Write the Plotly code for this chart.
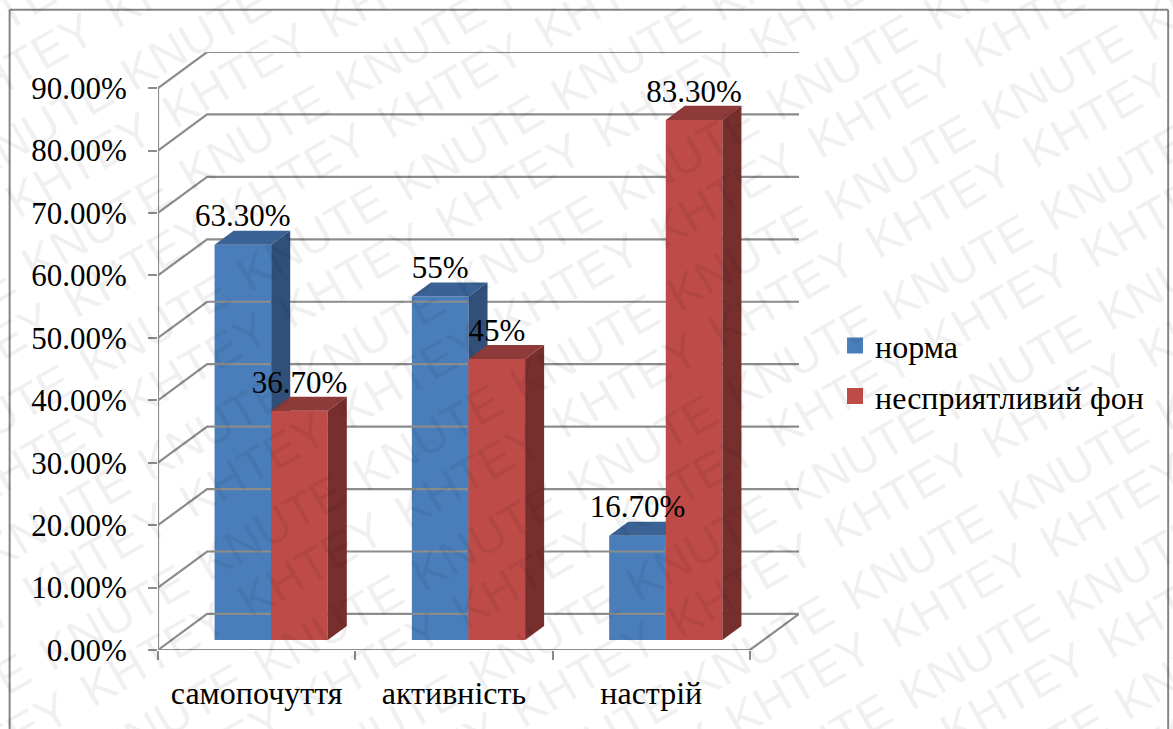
import plotly.graph_objects as go

categories = ["самопочуття", "активність", "настрій"]
norma = [63.3, 55, 16.7]
fon = [36.7, 45, 83.3]
norma_labels = ["63.30%", "55%", "16.70%"]
fon_labels = ["36.70%", "45%", "83.30%"]
series_names = ["норма", "несприятливий фон"]
y_ticks = [0, 10, 20, 30, 40, 50, 60, 70, 80, 90]
y_tick_labels = ["0.00%", "10.00%", "20.00%", "30.00%", "40.00%", "50.00%", "60.00%", "70.00%", "80.00%", "90.00%"]
watermark_words = ["KHTEY", "KNUTE"]

W, H = 1173, 729
PX_L, PX_R, PX_T, PX_B = 158.3, 799.0, 51.7, 650.0
UX = 196.9          # px per category
UY = 6.233          # px per percentage point
DX, DY = 49 / UX, 36 / UY                # wall depth
FX, FY = 14.5 / UX, 10 / UY              # bar front plane
SX, SY = 19 / UX, 14 / UY                # bar depth
BW = 56.5 / UX                           # bar width
GRID = "#8c8c8c"
SERIF = "Liberation Serif"

xr = [-0.5, 2.5 + DX]
yr = [0, 90 + DY]
px = lambda v: (v - PX_L) / (PX_R - PX_L)
py = lambda v: (PX_B - v) / (PX_B - PX_T)

fig = go.Figure()

# wall gridlines and floor
gx, gy = [], []
for t in y_ticks:
    gx += [-0.5, -0.5 + DX, 2.5 + DX, None]
    gy += [t, t + DY, t + DY, None]
gx += [-0.5, 2.5, 2.5 + DX, None, -0.5, -0.5]
gy += [0, 0, DY, None, 0, 90]
fig.add_trace(go.Scatter(x=gx, y=gy, mode="lines", line=dict(color=GRID, width=2.2),
                         showlegend=False, hoverinfo="skip", cliponaxis=False))


def add_series(vals, side, front, top, dark, xa, ya):
    xs = [i + FX + side * BW / 2 for i in range(len(vals))]
    fig.add_trace(go.Bar(x=xs, y=vals, base=FY, width=BW, marker=dict(color=front, line=dict(width=0)),
                         showlegend=False, xaxis=xa, yaxis=ya))
    tx, ty, sx, sy = [], [], [], []
    for c, v in zip(xs, vals):
        l, r, t, b = c - BW / 2, c + BW / 2, v + FY, FY
        tx += [l, r, r + SX, l + SX, l, None]
        ty += [t, t, t + SY, t + SY, t, None]
        sx += [r, r + SX, r + SX, r, r, None]
        sy += [b, b + SY, t + SY, t, b, None]
    fig.add_trace(go.Scatter(x=tx, y=ty, mode="lines", fill="toself", fillcolor=top, line=dict(width=0, color=top),
                             showlegend=False, hoverinfo="skip", xaxis=xa, yaxis=ya))
    fig.add_trace(go.Scatter(x=sx, y=sy, mode="lines", fill="toself", fillcolor=dark, line=dict(width=0, color=dark),
                             showlegend=False, hoverinfo="skip", xaxis=xa, yaxis=ya))
    return xs


xs_n = add_series(norma, -1, "#4a7ebb", "#3a6294", "#30507a", "x", "y")
xs_f = add_series(fon, 1, "#be4b48", "#8e3a38", "#772f2d", "x2", "y2")

# data labels
lab_x = list(xs_n + xs_f)
lab_y = [v + FY + 26 / UY for v in norma + fon]
fig.add_trace(go.Scatter(x=lab_x, y=lab_y, mode="text", text=norma_labels + fon_labels,
                         textposition="middle center", textfont=dict(family=SERIF, size=31, color="black"),
                         showlegend=False, hoverinfo="skip", xaxis="x2", yaxis="y2", cliponaxis=False))

# legend keys
for name, col in zip(series_names, ["#4a7ebb", "#be4b48"]):
    fig.add_trace(go.Scatter(x=[None], y=[None], mode="markers", name=name, legendgroup=name,
                             marker=dict(symbol="square", size=16, color=col)))

# watermark lattice
annots = []
a = (157, -90)
b = (58, 100)
anchors = {"KHTEY": (898, 495), "KNUTE": (916, 557)}
for w in watermark_words:
    ax, ay = anchors[w]
    for i in range(-10, 11):
        for j in range(-10, 11):
            cx = ax + i * a[0] + j * b[0]
            cy = ay + i * a[1] + j * b[1]
            if -120 < cx < W + 120 and -120 < cy < H + 120:
                annots.append(dict(text=w, x=px(cx), y=py(cy), xref="paper", yref="paper",
                                   xanchor="center", yanchor="middle", showarrow=False, textangle=-30,
                                   font=dict(family="Liberation Sans", size=48, color="rgba(0,0,0,0.06)")))

frame = dict(type="line", xref="paper", yref="paper", line=dict(color="#858585", width=2), layer="below")
shapes = [
    dict(frame, x0=px(10), x1=px(10), y0=py(9.5), y1=py(H + 5)),
    dict(frame, x0=px(10), x1=px(1168), y0=py(9.5), y1=py(9.5)),
    dict(frame, x0=px(1168), x1=px(1168), y0=py(9.5), y1=py(H + 5)),
]

axis_font = dict(family=SERIF, size=31, color="black")
fig.update_layout(
    width=W, height=H, margin=dict(l=PX_L, r=W - PX_R, t=PX_T, b=H - PX_B, autoexpand=False),
    paper_bgcolor="white", plot_bgcolor="rgba(0,0,0,0)", barmode="overlay",
    xaxis=dict(range=xr, tickmode="array", tickvals=[-0.5, 0.5, 1.5, 2.5], ticktext=["", "", "", ""],
               ticks="outside", ticklen=9, tickwidth=2, tickcolor=GRID, showgrid=False, zeroline=False, showline=False),
    yaxis=dict(range=yr, tickmode="array", tickvals=y_ticks, ticktext=y_tick_labels, tickfont=axis_font,
               ticks="outside", ticklen=9, tickwidth=2, tickcolor=GRID, ticklabelstandoff=15,
               showgrid=False, zeroline=False, showline=False),
    xaxis2=dict(range=xr, overlaying="x", anchor="y2", tickmode="array", tickvals=[0, 1, 2], ticktext=categories,
                tickfont=dict(family=SERIF, size=32, color="black"), ticks="", ticklabelstandoff=21,
                showgrid=False, zeroline=False, showline=False),
    yaxis2=dict(range=yr, overlaying="y", anchor="x2", showticklabels=False, ticks="", showgrid=False,
                zeroline=False, showline=False),
    legend=dict(x=px(835), y=py(318), xanchor="left", yanchor="top", bgcolor="rgba(0,0,0,0)",
                font=dict(family=SERIF, size=32, color="black"), tracegroupgap=6, itemsizing="trace", itemclick=False),
    annotations=annots, shapes=shapes, showlegend=True,
)

fig.write_html("out.html", config={"displayModeBar": False},
               post_script="document.body.style.margin='0';document.body.style.overflow='hidden';")
